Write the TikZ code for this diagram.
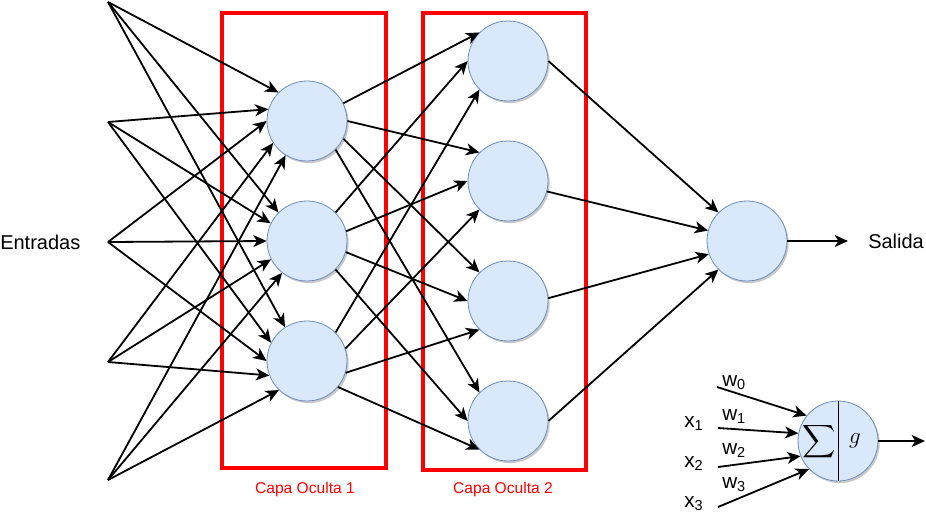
\documentclass[tikz,border=0pt]{standalone}
\usepackage{amsmath}
\usepackage{fontspec}
\setmainfont{Liberation Sans}
\usetikzlibrary{arrows.meta,shadows}
\definecolor{nfill}{HTML}{DAE8FC}
\definecolor{nline}{HTML}{6C8EBF}

\begin{document}
\begin{tikzpicture}[x=0.75pt, y=-0.75pt,
	neuron/.style = {circle, draw=nline, fill=nfill, line width=0.6pt, minimum size=60pt, inner sep=0pt,
		drop shadow={shadow xshift=1.3pt, shadow yshift=-1.6pt, opacity=0.3, fill=black!70}},
	conn/.style = {line width=1.35pt, -{Stealth[length=10pt, width=9pt, inset=2.8pt]}},
	layer/.style = {draw=red, line width=3pt},
	lbl/.style = {inner sep=0pt, font=\fontsize{15}{18}\selectfont},
	sublbl/.style = {inner sep=0pt, anchor=base west, font=\fontsize{15.5}{18}\selectfont},
	caplbl/.style = {inner sep=0pt, text=red, font=\fontsize{11.7}{14}\selectfont}]
	\useasboundingbox (0,0) rectangle (926,519);
	\draw[layer] (222,13) rectangle (385.5,468);
	\draw[layer] (423,12.5) rectangle (586,469.5);
	\node[caplbl] (cap1) at (305,489) {Capa Oculta 1};
	\node[caplbl] (cap2) at (503,489) {Capa Oculta 2};
	\foreach \y [count=\i] in {2,122,242,362,480} \coordinate (in\i) at (108,\y);
	\foreach \y [count=\i] in {121,241,361} \node[neuron] (ha\i) at (307,\y) {};
	\foreach \y [count=\i] in {61,181,301,421} \node[neuron] (hb\i) at (508,\y) {};
	\node[neuron] (out) at (747,241) {};
	\node[lbl, anchor=west] (entradas) at (0,242) {Entradas};
	\node[lbl, anchor=west] (salida) at (868,241) {Salida};
	\foreach \j/\angs in {1/{135,163,180,213,238}, 2/{135,154,180,207,232}, 3/{123,153,180,201,226}}
		\foreach \a [count=\i] in \angs \draw[conn] (in\i) -- (ha\j.\a);
	\foreach \i/\outs in {1/{26,0,334,315}, 2/{45,14,344,315}, 3/{45,18,343,320}} {
		\pgfmathtruncatemacro\e{90+45*\i}
		\foreach \s [count=\j] in \outs \draw[conn] (ha\i.\s) -- (hb\j.\e);
	}
	\foreach \s/\e [count=\j] in {0/135, 345/165, 4/199, 0/225} \draw[conn] (hb\j.\s) -- (out.\e);
	\draw[conn] (out) -- (salida.west) [shorten >=15pt];
	\node[neuron] (g) at (838,441) {};
	\draw[line width=0.6pt] (g.north) -- (g.south);
	\node (sigma) at (819,442) {\LARGE$\displaystyle\sum$};
	\node (gfun) at (855,441) {\LARGE$g$};
	\coordinate (gout) at (925,441);
	\draw[conn] (g) -- (gout);
	\foreach \n/\x/\y/\a in {w0/717/387/141, x1/718/428/169, x2/718/467/202, x3/718/507/224} {
		\coordinate (\n s) at (\x,\y);
		\draw[conn] (\n s) -- (g.\a);
	}
	\foreach \n/\y in {0/386, 1/420, 2/454, 3/488} \node[sublbl] (w\n) at (722,\y) {w\textsubscript{\n}};
	\foreach \n/\y in {1/427, 2/467, 3/507} \node[sublbl] (x\n) at (684,\y) {x\textsubscript{\n}};
\end{tikzpicture}
\end{document}
